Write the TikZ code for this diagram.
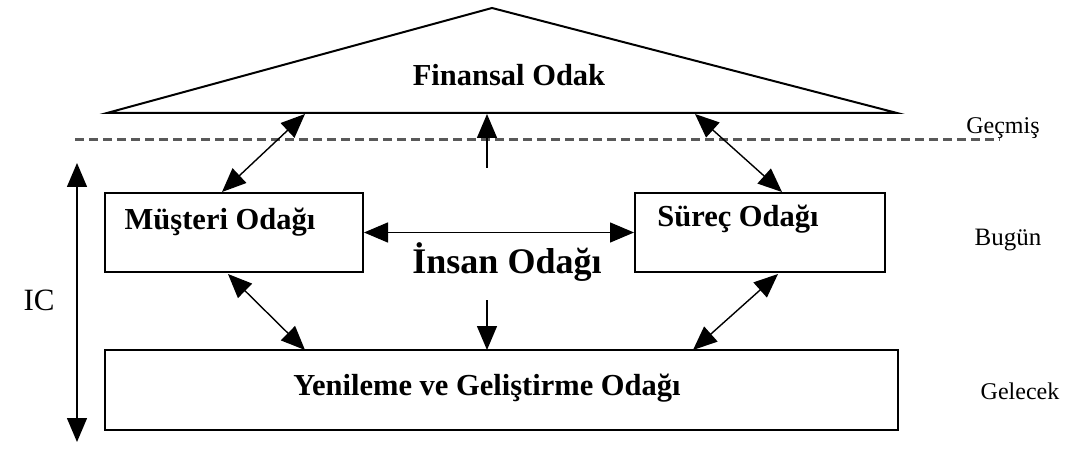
\documentclass[tikz,border=0pt]{standalone}
\usepackage{fontspec}
\setmainfont{Liberation Serif}
\usetikzlibrary{arrows.meta}
\tikzset{
  box/.style={draw, line width=2pt, inner sep=0pt},
  conn/.style={line width=1.4pt, -{Triangle[length=24pt,width=20pt]}},
  bconn/.style={line width=1.4pt, {Triangle[length=24pt,width=20pt]}-{Triangle[length=24pt,width=20pt]}},
  bigtxt/.style={font=\fontsize{30.5}{32}\selectfont\bfseries, inner sep=0pt},
  smalltxt/.style={font=\fontsize{24}{26}\selectfont, inner sep=0pt},
}
\begin{document}
\begin{tikzpicture}[x=1pt,y=-1pt]
\useasboundingbox (0,0) rectangle (1067,454);
% triangle
\draw[line width=2pt, line join=miter] (107,113) -- (492,8) -- (897,113) -- cycle;
\node[bigtxt] (fin) at (509,75) {Finansal Odak};
% dashed line
\draw[gray!70!black, line width=3pt, dash pattern=on 9pt off 5pt] (75,140) -- (1000,140);
\node[smalltxt] (gec) at (1003,128) {Geçmiş};
\node[smalltxt, font=\fontsize{25}{27}\selectfont] (bug) at (1008,240) {Bugün};
\node[smalltxt] (gel) at (1020,391) {Gelecek};
% IC axis
\coordinate (ict) at (77,163);
\coordinate (icb) at (77,442);
\draw[bconn] (ict) -- (icb);
\node[font=\fontsize{31}{33}\selectfont, inner sep=0pt] (ic) at (39,300) {IC};
% boxes
\node[box, minimum width=258pt, minimum height=79pt] (mus) at (234,232.5) {};
\node[bigtxt] (must) at (220,222) {Müşteri Odağı};
\node[box, minimum width=250pt, minimum height=79pt] (sur) at (760,232.5) {};
\node[bigtxt] (surt) at (738,219) {Süreç Odağı};
\node[box, minimum width=793pt, minimum height=80pt] (yen) at (501.5,390) {};
\node[bigtxt] (yent) at (487,388) {Yenileme ve Geliştirme Odağı};
\node[font=\fontsize{36}{38}\selectfont\bfseries, inner sep=0pt] (ins) at (507,262) {İnsan Odağı};
% coordinates on triangle base
\coordinate (tb1) at (305,114);
\coordinate (tb2) at (487,114);
\coordinate (tb3) at (695,114);
% connectors
\draw[bconn] (mus.east) -- (sur.west);
\draw[bconn] (222,192) -- (tb1);
\draw[bconn] (tb3) -- (782,192);
\coordinate (insu) at (487,168);
\coordinate (insd) at (487,300);
\draw[conn] (insu) -- (tb2);
\draw[conn] (insd) -- (487,350);
\draw[bconn] (228,274) -- (305,350);
\draw[bconn] (778,274) -- (693,350);
\end{tikzpicture}
\end{document}
